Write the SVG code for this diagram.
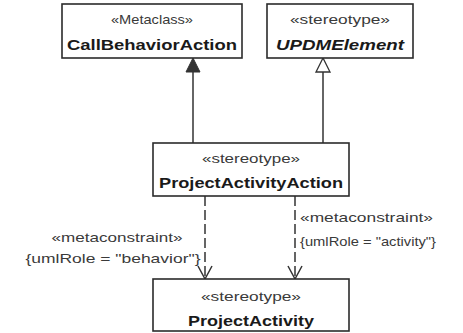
<svg xmlns="http://www.w3.org/2000/svg" width="463" height="333" viewBox="0 0 463 333">
<defs>
<style>
.box{fill:#fff;stroke:#2b2b2b;stroke-width:1.6}
.st{font-family:"Liberation Sans",Arial,sans-serif;font-size:13.5px;fill:#3a3a3a}
.nm{font-family:"Liberation Sans",Arial,sans-serif;font-size:15px;font-weight:bold;fill:#1a1a1a}
.lbl{font-family:"Liberation Sans",Arial,sans-serif;font-size:13.5px;fill:#3a3a3a}
.ln{stroke:#333;stroke-width:1.5;fill:none}
.dash{stroke:#333;stroke-width:1.5;fill:none;stroke-dasharray:10,4}
</style>
</defs>
<rect width="463" height="333" fill="#fff"/>
<g id="connectors">
<line class="ln" x1="193" y1="143" x2="193" y2="71"/>
<polygon points="193,58 186,72 200,72" fill="#333" stroke="#333" stroke-width="1"/>
<line class="ln" x1="323" y1="143" x2="323" y2="72"/>
<polygon points="323,58 316,72 330,72" fill="#fff" stroke="#333" stroke-width="1.3"/>
<line class="dash" x1="205" y1="196" x2="205" y2="278"/>
<polyline class="ln" points="198,266 205,279 212,266"/>
<line class="dash" x1="295" y1="196" x2="295" y2="278"/>
<polyline class="ln" points="288,266 295,279 302,266"/>
<text class="lbl" x="117" y="242" text-anchor="middle" textLength="131" lengthAdjust="spacingAndGlyphs">«metaconstraint»</text>
<text class="lbl" x="113" y="263" text-anchor="middle" textLength="175" lengthAdjust="spacingAndGlyphs">{umlRole = "behavior"}</text>
<text class="lbl" x="300" y="222" textLength="133" lengthAdjust="spacingAndGlyphs">«metaconstraint»</text>
<text class="lbl" x="300" y="246" textLength="136" lengthAdjust="spacingAndGlyphs">{umlRole = "activity"}</text>
</g>
<g id="CallBehaviorAction">
<rect class="box" x="62" y="4" width="180" height="54"/>
<text class="st" x="152" y="24" text-anchor="middle" textLength="82" lengthAdjust="spacingAndGlyphs">«Metaclass»</text>
<text class="nm" x="152" y="50" text-anchor="middle" textLength="170" lengthAdjust="spacingAndGlyphs">CallBehaviorAction</text>
</g>
<g id="UPDMElement">
<rect class="box" x="267" y="4" width="146" height="54"/>
<text class="st" x="340" y="24" text-anchor="middle" textLength="100" lengthAdjust="spacingAndGlyphs">«stereotype»</text>
<text class="nm" x="340" y="50" text-anchor="middle" font-style="italic" textLength="128" lengthAdjust="spacingAndGlyphs">UPDMElement</text>
</g>
<g id="ProjectActivityAction">
<rect class="box" x="153" y="143" width="196" height="53"/>
<text class="st" x="251" y="163" text-anchor="middle" textLength="98" lengthAdjust="spacingAndGlyphs">«stereotype»</text>
<text class="nm" x="251" y="188" text-anchor="middle" textLength="184" lengthAdjust="spacingAndGlyphs">ProjectActivityAction</text>
</g>
<g id="ProjectActivity">
<rect class="box" x="153" y="279" width="196" height="52"/>
<text class="st" x="251" y="301" text-anchor="middle" textLength="100" lengthAdjust="spacingAndGlyphs">«stereotype»</text>
<text class="nm" x="251" y="326" text-anchor="middle" textLength="126" lengthAdjust="spacingAndGlyphs">ProjectActivity</text>
</g>
</svg>
